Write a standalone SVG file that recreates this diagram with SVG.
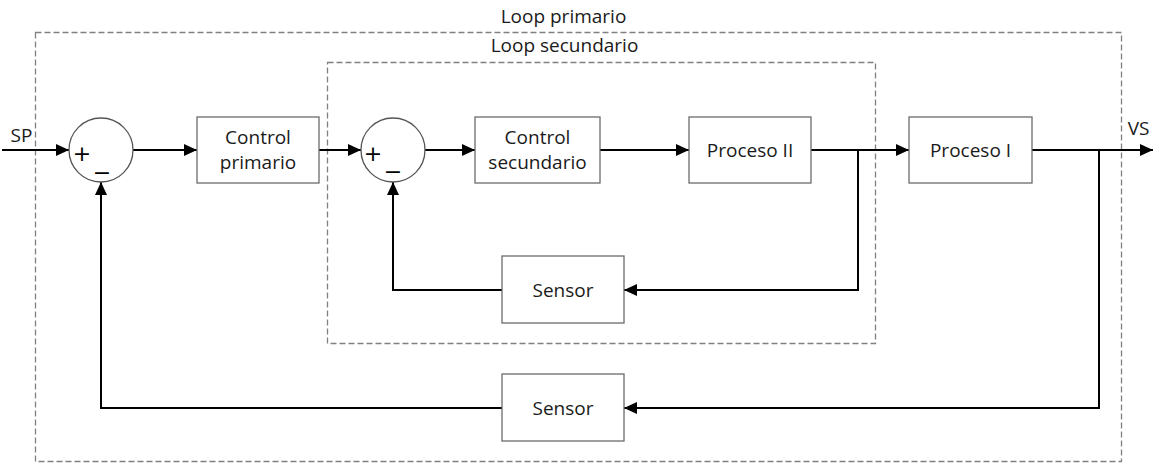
<svg xmlns="http://www.w3.org/2000/svg" width="1156" height="464" viewBox="0 0 1156 464">
<style>
.box{fill:#fff;stroke:#6b6b6b;stroke-width:1.3}
.sum{fill:#fff;stroke:#555;stroke-width:1.3}
.dash{fill:none;stroke:#808080;stroke-width:1.3;stroke-dasharray:6 3}
.ln{fill:none;stroke:#000;stroke-width:2}
.t{font-family:"Open Sans","Noto Sans",sans-serif;font-size:19px;fill:#1a1a1a;text-anchor:middle}
.sg{font-family:"DejaVu Sans",sans-serif;font-size:22px;fill:#000;text-anchor:middle}
</style>
<defs>
<marker id="ah" markerWidth="14" markerHeight="12" refX="13" refY="6" orient="auto" markerUnits="userSpaceOnUse">
<path d="M0,0 L13,6 L0,12 Z" fill="#000"/>
</marker>
</defs>
<rect width="1156" height="464" fill="#fff"/>
<g id="loop-primario">
<rect class="dash" x="35.5" y="32.5" width="1086" height="429"/>
<text class="t" x="563.5" y="23">Loop primario</text>
</g>
<g id="loop-secundario">
<rect class="dash" x="327.5" y="62.5" width="548" height="281"/>
<text class="t" x="564.5" y="52">Loop secundario</text>
</g>
<g id="connectors">
<line class="ln" x1="2" y1="150" x2="69" y2="150" marker-end="url(#ah)"/>
<line class="ln" x1="133" y1="150" x2="197" y2="150" marker-end="url(#ah)"/>
<line class="ln" x1="319" y1="150" x2="361" y2="150" marker-end="url(#ah)"/>
<line class="ln" x1="425" y1="150" x2="475" y2="150" marker-end="url(#ah)"/>
<line class="ln" x1="600" y1="150" x2="689" y2="150" marker-end="url(#ah)"/>
<line class="ln" x1="811" y1="150" x2="909" y2="150" marker-end="url(#ah)"/>
<line class="ln" x1="1032" y1="150" x2="1153" y2="150" marker-end="url(#ah)"/>
<polyline class="ln" points="858,150 858,290 624,290" marker-end="url(#ah)"/>
<polyline class="ln" points="502,290 393,290 393,182" marker-end="url(#ah)"/>
<polyline class="ln" points="1099,150 1099,408 624,408" marker-end="url(#ah)"/>
<polyline class="ln" points="502,408 101,408 101,182" marker-end="url(#ah)"/>
</g>
<g id="sp"><text class="t" x="21.5" y="142">SP</text></g>
<g id="vs"><text class="t" x="1138.5" y="135">VS</text></g>
<g id="sum1">
<circle class="sum" cx="101" cy="150" r="32"/>
<text class="sg" x="82" y="161">+</text>
<text class="sg" x="102" y="180">−</text>
</g>
<g id="control-primario">
<rect class="box" x="197" y="117" width="122" height="66"/>
<text class="t" x="258" y="144">Control</text>
<text class="t" x="258" y="169">primario</text>
</g>
<g id="sum2">
<circle class="sum" cx="393" cy="150" r="32"/>
<text class="sg" x="373" y="161">+</text>
<text class="sg" x="393" y="179">−</text>
</g>
<g id="control-secundario">
<rect class="box" x="475" y="117" width="125" height="66"/>
<text class="t" x="537.5" y="144">Control</text>
<text class="t" x="537.5" y="169">secundario</text>
</g>
<g id="proceso-ii">
<rect class="box" x="689" y="117" width="122" height="66"/>
<text class="t" x="750" y="157">Proceso II</text>
</g>
<g id="proceso-i">
<rect class="box" x="909" y="117" width="123" height="66"/>
<text class="t" x="970.5" y="157">Proceso I</text>
</g>
<g id="sensor-secundario">
<rect class="box" x="502" y="256" width="122" height="67"/>
<text class="t" x="563" y="297">Sensor</text>
</g>
<g id="sensor-primario">
<rect class="box" x="502" y="374" width="122" height="67"/>
<text class="t" x="563" y="415">Sensor</text>
</g>
</svg>
